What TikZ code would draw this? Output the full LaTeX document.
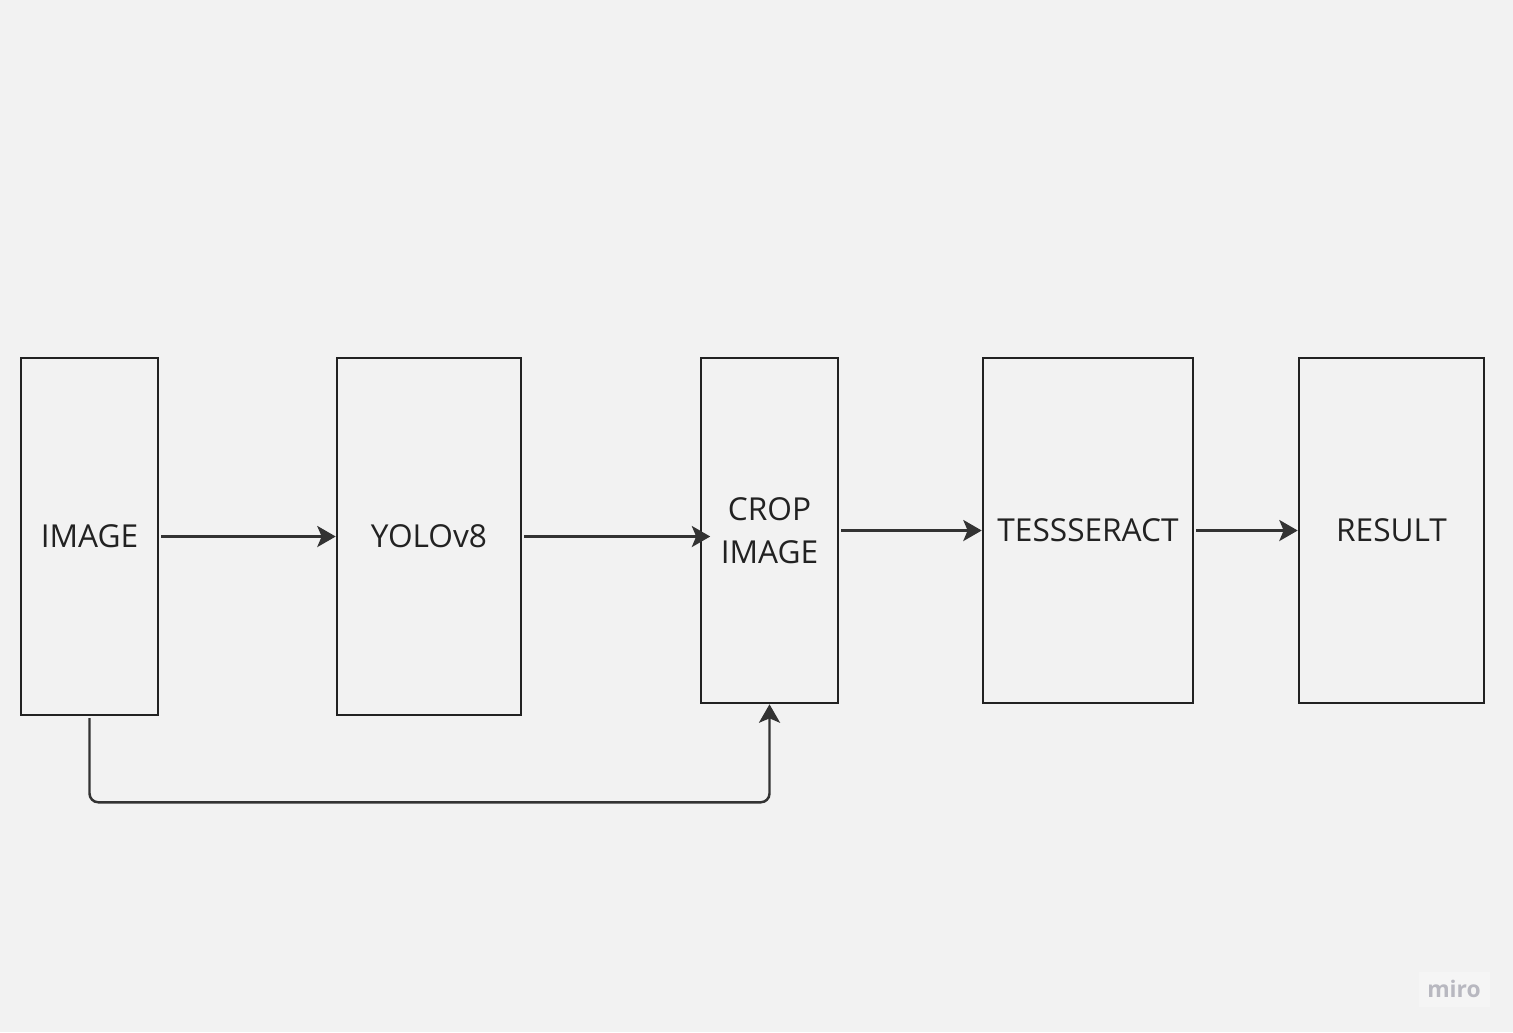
\documentclass[tikz,border=0pt]{standalone}
\usepackage{fontspec}
\setmainfont{Open Sans}
\usetikzlibrary{arrows.meta}
\definecolor{bgcolor}{HTML}{F2F2F2}
\definecolor{linecolor}{HTML}{222222}
\definecolor{arrowcolor}{HTML}{333333}
\definecolor{mirocolor}{HTML}{B8B8C0}
\tikzset{
	block/.style={draw=linecolor,line width=1.5pt,minimum height=7.14cm,
		align=center,text=linecolor,font=\fontsize{18}{24.5}\selectfont},
	flow/.style={draw=arrowcolor,line width=1.4pt,shorten <=1pt,
		-{Stealth[length=10.5pt,width=12pt,inset=2.5pt]}}
}
\begin{document}
\begin{tikzpicture}[x=0.02cm,y=-0.02cm]
	% draw background
	\fill[bgcolor] (0,0) rectangle (1513,1032);
	\useasboundingbox (0,0) rectangle (1513,1032);
	
	% draw blocks
	\node[block,minimum width=2.74cm] (image) at (89.5,536.5) {IMAGE};
	\node[block,minimum width=3.68cm] (yolo) at (429,536.5) {YOLOv8};
	\node[block,minimum width=2.74cm,minimum height=6.9cm] (crop) at (769.5,530.5) {CROP\\IMAGE};
	\node[block,minimum width=4.2cm,minimum height=6.9cm] (tess) at (1088,530.5) {TESSSERACT};
	\node[block,minimum width=3.7cm,minimum height=6.9cm] (result) at (1391.5,530.5) {RESULT};
	
	% draw arrows between blocks
	\draw[flow] (image) -- (yolo);
	\draw[flow,shorten >=-6pt] (yolo.east) -- (crop.west |- yolo.east);
	\draw[flow] (crop) -- (tess);
	\draw[flow] (tess) -- (result);
	
	% draw line from image to crop image
	\draw[flow,rounded corners=5pt] (image.south) -- ++(0,86) -| (crop.south);
	
	% draw miro mark
	\node[fill=white,fill opacity=0.25,text opacity=1,text=mirocolor,minimum width=1.42cm,
		minimum height=0.7cm,font=\fontsize{13}{14}\selectfont\bfseries] (miro) at (1454,989) {miro};
\end{tikzpicture}
\end{document}
